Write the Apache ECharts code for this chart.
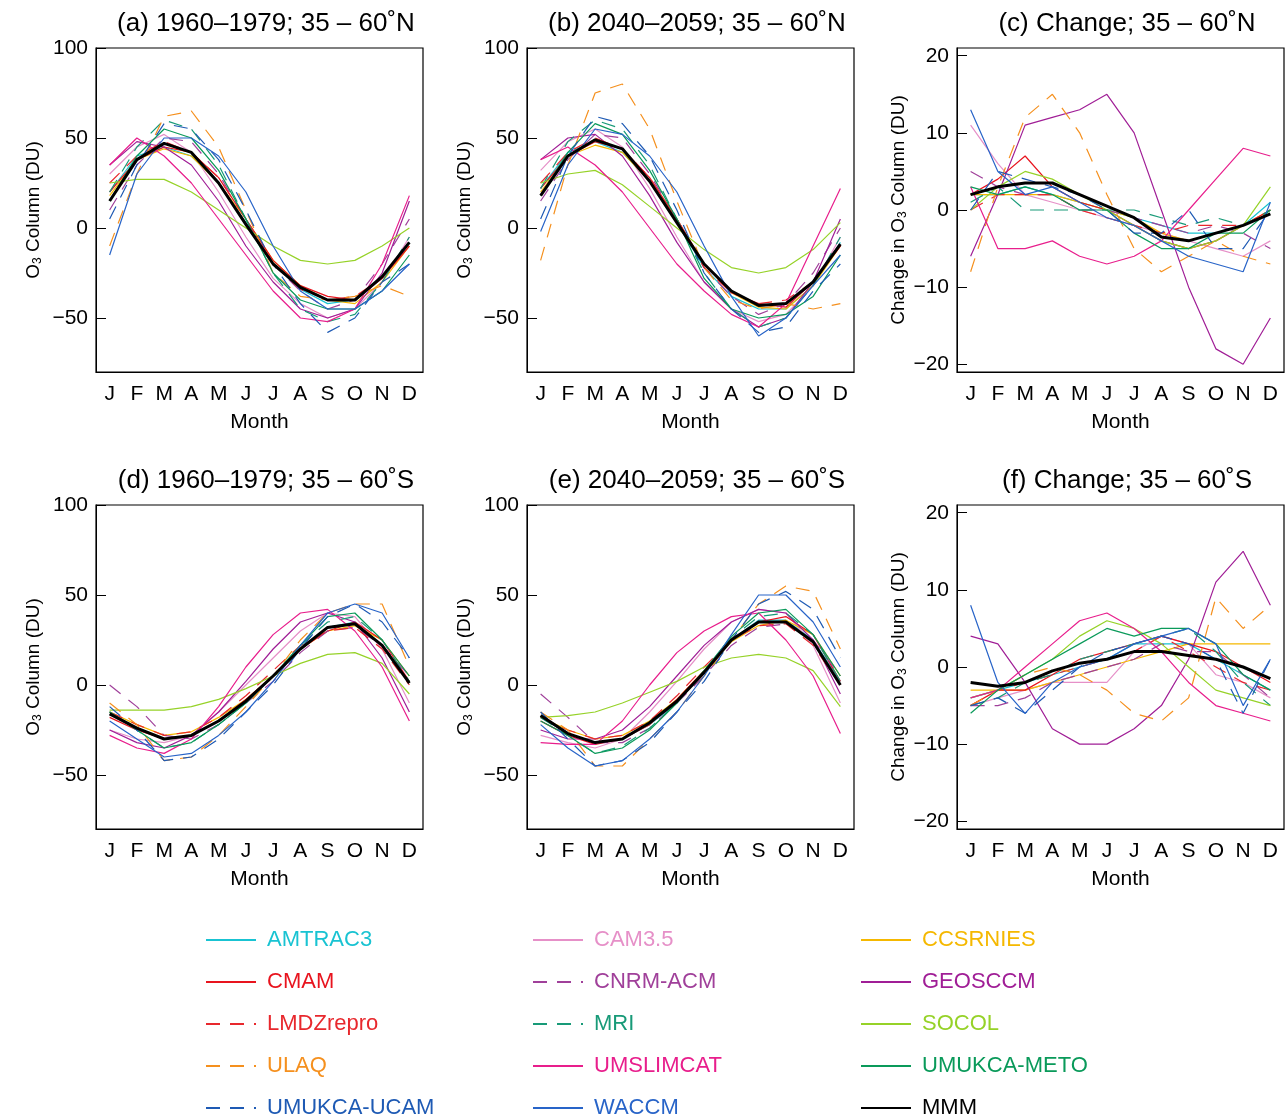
<!DOCTYPE html>
<html lang="en">
<head>
<meta charset="UTF-8">
<title>O3 column seasonal cycle</title>
<script src="https://cdn.jsdelivr.net/npm/echarts@6/dist/echarts.min.js"></script>
<style>
  html, body { margin: 0; padding: 0; background: #fff; }
  #container { width: 1287px; height: 1117px; }
</style>
</head>
<body>
<div id="container"></div>
<script>
const months = ['J', 'F', 'M', 'A', 'M', 'J', 'J', 'A', 'S', 'O', 'N', 'D'];
const panelTitles = ['(a) 1960\u20131979; 35 \u2013 60\u02daN', '(b) 2040\u20132059; 35 \u2013 60\u02daN', '(c) Change; 35 \u2013 60\u02daN',
  '(d) 1960\u20131979; 35 \u2013 60\u02daS', '(e) 2040\u20132059; 35 \u2013 60\u02daS', '(f) Change; 35 \u2013 60\u02daS'];
const models = ['AMTRAC3', 'CAM3.5', 'CCSRNIES', 'CMAM', 'CNRM-ACM', 'GEOSCCM', 'LMDZrepro', 'MRI', 'SOCOL',
  'ULAQ', 'UMSLIMCAT', 'UMUKCA-METO', 'UMUKCA-UCAM', 'WACCM', 'MMM'];
const colors = ['#19c3d2', '#e690c8', '#f5b800', '#e8141e', '#a0409a', '#a01e96', '#e8282d', '#189a78', '#96d228',
  '#f5901e', '#e81e8c', '#0a9a5a', '#1e5ab4', '#2864c8', '#000000'];
const dashed = ['LMDZrepro', 'ULAQ', 'UMUKCA-UCAM', 'CNRM-ACM', 'MRI'];

// values per panel, one row per model (same order as models)
const panelA = [
  [20, 40, 45, 40, 25, 3, -20, -34, -42, -40, -28, -8],
  [30, 45, 52, 42, 20, -5, -28, -42, -50, -45, -30, -5],
  [18, 38, 44, 40, 25, 5, -18, -32, -40, -42, -30, -10],
  [20, 38, 45, 42, 28, 5, -18, -32, -38, -40, -28, -10],
  [10, 35, 50, 48, 30, 5, -20, -35, -45, -40, -20, 5],
  [35, 48, 45, 35, 15, -10, -30, -45, -50, -45, -25, 15],
  [25, 40, 48, 42, 28, 5, -20, -34, -40, -38, -28, -10],
  [20, 45, 60, 55, 35, 5, -25, -45, -52, -48, -30, -5],
  [25, 27, 27, 20, 10, 0, -10, -18, -20, -18, -10, 0],
  [-10, 30, 62, 65, 45, 10, -25, -38, -40, -38, -32, -38],
  [35, 50, 40, 25, 5, -15, -35, -50, -52, -45, -20, 18],
  [15, 40, 55, 50, 32, 5, -25, -40, -45, -45, -35, -15],
  [5, 35, 58, 55, 38, 10, -20, -42, -58, -50, -30, -20],
  [-15, 30, 50, 50, 40, 20, -10, -35, -45, -45, -35, -20],
  [15, 38, 47, 42, 25, 2, -20, -33, -40, -40, -27, -8]
];
const panelB = [
  [22, 42, 48, 42, 26, 3, -22, -38, -45, -45, -32, -8],
  [32, 48, 55, 45, 22, -5, -30, -45, -52, -48, -32, -5],
  [20, 40, 46, 42, 26, 5, -20, -36, -44, -45, -32, -10],
  [22, 40, 48, 44, 28, 5, -20, -36, -42, -44, -30, -10],
  [15, 38, 52, 50, 30, 5, -22, -38, -48, -42, -25, 0],
  [38, 50, 52, 40, 18, -8, -30, -45, -55, -50, -30, 5],
  [25, 42, 50, 44, 28, 5, -22, -36, -42, -40, -30, -10],
  [22, 48, 60, 55, 35, 5, -25, -45, -55, -50, -32, -5],
  [25, 30, 32, 24, 12, 0, -12, -22, -25, -22, -12, 3],
  [-18, 35, 75, 80, 55, 15, -22, -40, -45, -42, -45, -42],
  [38, 45, 35, 20, 0, -20, -35, -48, -55, -42, -10, 22],
  [18, 42, 58, 52, 32, 5, -28, -45, -50, -48, -38, -15],
  [5, 40, 62, 58, 40, 10, -25, -45, -58, -55, -35, -20],
  [-2, 35, 55, 52, 40, 20, -10, -38, -60, -50, -32, -15],
  [18, 40, 49, 44, 26, 3, -20, -35, -43, -42, -30, -9]
];
const panelC = [
  [2, 2, 3, 2, 1, 0, -1, -2, -3, -3, -2, 1],
  [11, 6, 2, 1, 0, -1, -2, -3, -4, -5, -6, -4],
  [2, 2, 2, 2, 1, 0, -1, -3, -4, -3, -2, 0],
  [2, 4, 7, 3, 1, 0, -2, -4, -5, -4, -2, 0],
  [5, 3, 2, 2, 0, 0, -1, -2, -3, -2, -3, -5],
  [-6, 2, 11, 12, 13, 15, 10, 0, -10, -18, -20, -14],
  [0, 2, 2, 2, 0, -1, -2, -3, -2, -2, -2, 0],
  [1, 3, 0, 0, 0, 0, 0, -1, -2, -1, -2, 0],
  [0, 3, 5, 4, 2, 0, -2, -4, -5, -4, -2, 3],
  [-8, 3, 12, 15, 10, 2, -5, -8, -6, -4, -6, -7],
  [3, -5, -5, -4, -6, -7, -6, -4, 0, 4, 8, 7],
  [3, 2, 3, 2, 0, 0, -3, -5, -5, -3, -3, 0],
  [0, 5, 4, 3, 2, 0, -3, -3, 0, -5, -5, 0],
  [13, 5, 2, 3, 1, -1, -2, -4, -6, -7, -8, 1],
  [2, 3, 3.5, 3.5, 2, 0.5, -1, -3.5, -4, -3, -2, -0.5]
];
const panelD = [
  [-15, -24, -30, -28, -20, -10, 5, 20, 32, 35, 22, 2],
  [-25, -30, -32, -28, -15, 0, 15, 30, 40, 38, 20, -10],
  [-15, -22, -28, -26, -18, -8, 5, 20, 30, 33, 25, 5],
  [-18, -25, -30, -28, -20, -8, 5, 20, 30, 35, 25, 2],
  [0, -12, -28, -30, -22, -10, 2, 18, 30, 32, 22, 5],
  [-25, -32, -35, -28, -15, 2, 20, 35, 40, 35, 15, -15],
  [-15, -22, -28, -26, -18, -6, 8, 22, 30, 32, 20, 0],
  [-15, -25, -35, -32, -22, -10, 5, 22, 35, 38, 25, 2],
  [-14, -14, -14, -12, -8, -2, 5, 12, 17, 18, 12, -5],
  [-10, -22, -42, -40, -28, -12, 5, 25, 40, 45, 45, 10],
  [-28, -35, -38, -30, -12, 10, 28, 40, 42, 30, 10, -20],
  [-15, -25, -35, -32, -22, -10, 5, 22, 38, 40, 25, 5],
  [-12, -25, -42, -40, -30, -15, 0, 20, 38, 45, 35, 15],
  [-20, -30, -40, -38, -28, -15, 2, 22, 40, 45, 40, 15],
  [-16, -24, -30, -28, -20, -9, 5, 20, 32, 34, 22, 1]
];
const panelE = [
  [-18, -27, -32, -30, -22, -10, 8, 25, 36, 36, 25, 2],
  [-28, -32, -35, -30, -15, 2, 20, 35, 42, 40, 22, -10],
  [-18, -25, -30, -28, -20, -8, 8, 24, 33, 36, 28, 5],
  [-20, -28, -33, -30, -22, -8, 8, 25, 35, 38, 28, 2],
  [-5, -18, -32, -32, -24, -10, 5, 22, 32, 34, 25, 5],
  [-25, -30, -30, -25, -12, 5, 22, 35, 42, 40, 25, -5],
  [-18, -25, -30, -28, -20, -6, 10, 25, 33, 34, 22, 0],
  [-18, -28, -38, -34, -24, -10, 8, 26, 38, 40, 28, 2],
  [-18, -17, -15, -10, -4, 2, 10, 15, 17, 15, 8, -12],
  [-15, -25, -45, -45, -30, -15, 5, 25, 45, 55, 52, 20],
  [-32, -33, -33, -20, 0, 18, 30, 38, 40, 25, 5, -27],
  [-20, -28, -38, -35, -25, -10, 8, 27, 40, 42, 28, 5],
  [-15, -30, -45, -42, -32, -15, 2, 25, 45, 52, 42, 15],
  [-22, -35, -45, -42, -30, -15, 5, 28, 50, 50, 35, 10],
  [-17, -27, -32, -30, -21, -9, 7, 25, 35, 35, 24, 0]
];
const panelF = [
  [-4, -3, -2, -1, 0, 1, 3, 3, 3, 1, -1, -3],
  [-5, -4, -3, -2, -2, -2, 2, 4, 3, -1, -2, -4],
  [-3, -3, -3, -2, -1, 0, 1, 2, 3, 3, 3, 3],
  [-5, -3, -3, -1, 1, 2, 3, 4, 3, 2, 0, -2],
  [-5, -5, -4, -2, -1, 0, 1, 3, 2, 2, -1, -4],
  [4, 3, -2, -8, -10, -10, -8, -5, 1, 11, 15, 8],
  [-5, -3, -2, -1, 0, 1, 2, 4, 2, 0, -2, -3],
  [-5, -4, -2, -1, 1, 2, 3, 4, 5, 2, -2, -5],
  [-4, -3, -1, 1, 4, 6, 5, 3, 0, -3, -4, -5],
  [-5, -3, -1, 0, -1, -3, -6, -7, -4, 9, 5, 8],
  [-4, -3, 0, 3, 6, 7, 5, 2, -2, -5, -6, -7],
  [-6, -3, -1, 1, 3, 5, 4, 5, 5, 3, -1, -3],
  [-5, -4, -6, -3, 0, 2, 3, 4, 3, 1, -6, 1],
  [8, -2, -6, -2, 0, 1, 3, 4, 5, 3, -5, 1],
  [-2, -2.5, -2, -0.5, 0.5, 1, 2, 2, 1.5, 1, 0, -1.5]
];
const panels = [panelA, panelB, panelC, panelD, panelE, panelF];
const legendCols = [
  ['AMTRAC3', 'CMAM', 'LMDZrepro', 'ULAQ', 'UMUKCA-UCAM'],
  ['CAM3.5', 'CNRM-ACM', 'MRI', 'UMSLIMCAT', 'WACCM'],
  ['CCSRNIES', 'GEOSCCM', 'SOCOL', 'UMUKCA-METO', 'MMM']
];

const font = 'Liberation Sans, Arial, sans-serif';
const lefts = [96, 527, 957];
const tops = [48, 505];
let chart = echarts.init(document.getElementById('container'));
let grids = [], xAxes = [], yAxes = [], series = [], titles = [];

panels.forEach((panel, p) => {
  let col = p % 3, row = Math.floor(p / 3);
  let isChange = col === 2;
  grids.push({ left: lefts[col], top: tops[row], width: 327, height: 324, show: true,
    borderColor: '#000', borderWidth: 1.2, backgroundColor: 'transparent' });
  titles.push({ text: panelTitles[p], left: lefts[col] + 165, top: tops[row] - 42, textAlign: 'center',
    textStyle: { fontFamily: font, fontSize: 26, fontWeight: 'normal', color: '#000' } });
  xAxes.push({ type: 'category', gridIndex: p, data: months, boundaryGap: true,
    name: 'Month', nameLocation: 'middle', nameGap: 40,
    nameTextStyle: { fontFamily: font, fontSize: 21, color: '#000' },
    axisLine: { onZero: false, lineStyle: { color: '#000' } },
    axisTick: { show: false },
    axisLabel: { fontFamily: font, fontSize: 21, color: '#000', margin: 12 },
    splitLine: { show: false } });
  let ticks = isChange ? [-20, -10, 0, 10, 20] : [-50, 0, 50, 100];
  yAxes.push({ type: 'value', gridIndex: p,
    min: isChange ? -21 : -80, max: isChange ? 21 : 100,
    name: isChange ? '{a|Change in O}{s|3}{a| Column (DU)}' : '{a|O}{s|3}{a| Column (DU)}',
    nameLocation: 'middle', nameGap: isChange ? 48 : 52,
    nameTextStyle: { rich: {
      a: { fontFamily: font, fontSize: 19, color: '#000' },
      s: { fontFamily: font, fontSize: 12, color: '#000', verticalAlign: 'bottom', padding: [8, 0, 0, 0] } } },
    axisLine: { show: true, lineStyle: { color: '#000' } },
    axisTick: { show: true, inside: true, length: 10, customValues: ticks, lineStyle: { color: '#000' } },
    axisLabel: { fontFamily: font, fontSize: 21, color: '#000', customValues: ticks, margin: 8,
      formatter: v => String(v).replace('-', '\u2212') },
    splitLine: { show: false } });
  panel.forEach((vals, m) => {
    let name = models[m];
    series.push({ name: name, type: 'line', xAxisIndex: p, yAxisIndex: p, data: vals,
      symbol: 'none', animation: false, z: name === 'MMM' ? 5 : 2,
      lineStyle: { color: colors[m], width: name === 'MMM' ? 3 : 1.2,
        type: dashed.includes(name) ? [14, 10] : 'solid' },
      itemStyle: { color: colors[m] } });
  });
});

let legends = legendCols.map((names, c) => ({
  orient: 'vertical', left: [200, 527, 855][c], top: 924, height: 200,
  itemWidth: 50, itemHeight: 14, itemGap: 20,
  selectedMode: false,
  itemStyle: { opacity: 0 },
  data: names.map(n => ({ name: n, textStyle: { color: n === 'MMM' ? '#000' : colors[models.indexOf(n)],
    fontFamily: font, fontSize: 22, padding: [0, 0, 0, 6] } }))
}));

chart.setOption({
  backgroundColor: '#fff',
  title: titles,
  grid: grids,
  xAxis: xAxes,
  yAxis: yAxes,
  legend: legends,
  series: series
});
</script>
</body>
</html>
